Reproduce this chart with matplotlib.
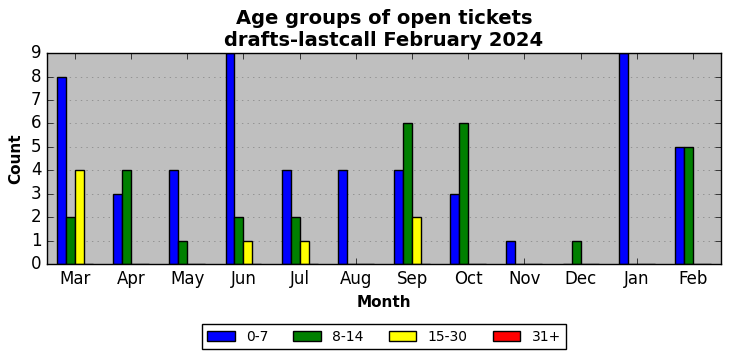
import numpy as np
import matplotlib
matplotlib.use("Agg")
import matplotlib.pyplot as plt

plt.style.use("classic")

months = ["Mar", "Apr", "May", "Jun", "Jul", "Aug", "Sep", "Oct", "Nov", "Dec", "Jan", "Feb"]
age_0_7 = [8, 3, 4, 9, 4, 4, 4, 3, 1, 0, 9, 5]
age_8_14 = [2, 4, 1, 2, 2, 0, 6, 6, 0, 1, 0, 5]
age_15_30 = [4, 0, 0, 1, 1, 0, 2, 0, 0, 0, 0, 0]
age_31p = [0, 0, 0, 0, 0, 0, 0, 0, 0, 0, 0, 0]

series = [("0-7", age_0_7, "blue"), ("8-14", age_8_14, "green"),
          ("15-30", age_15_30, "yellow"), ("31+", age_31p, "red")]

fig, ax = plt.subplots(figsize=(7.32, 3.61), dpi=100)
fig.patch.set_facecolor("white")
ax.set_facecolor("#bfbfbf")

x = np.arange(len(months))
w = 0.16
for i, (name, vals, col) in enumerate(series):
    ax.bar(x + (i - 1.5) * w, vals, w, color=col, edgecolor="black",
           linewidth=1, label=name, align="center")

ax.set_xlim(-0.5, len(months) - 0.5)
ax.set_ylim(0, 9)
ax.set_xticks(x)
ax.set_xticklabels(months)
ax.set_yticks(range(10))
ax.yaxis.grid(True, linestyle=":", color="gray")
ax.set_axisbelow(True)
ax.set_xlabel("Month", fontweight="bold", fontsize=11)
ax.set_ylabel("Count", fontweight="bold", fontsize=11)
ax.set_title("Age groups of open tickets\ndrafts-lastcall February 2024",
             fontweight="bold", fontsize=14)
ax.legend(loc="upper center", bbox_to_anchor=(0.5, -0.25), ncol=4,
          fontsize=10, frameon=True, columnspacing=1.8)

plt.subplots_adjust(left=0.064, right=0.985, top=0.853, bottom=0.268)
plt.savefig("out.png", dpi=100)
